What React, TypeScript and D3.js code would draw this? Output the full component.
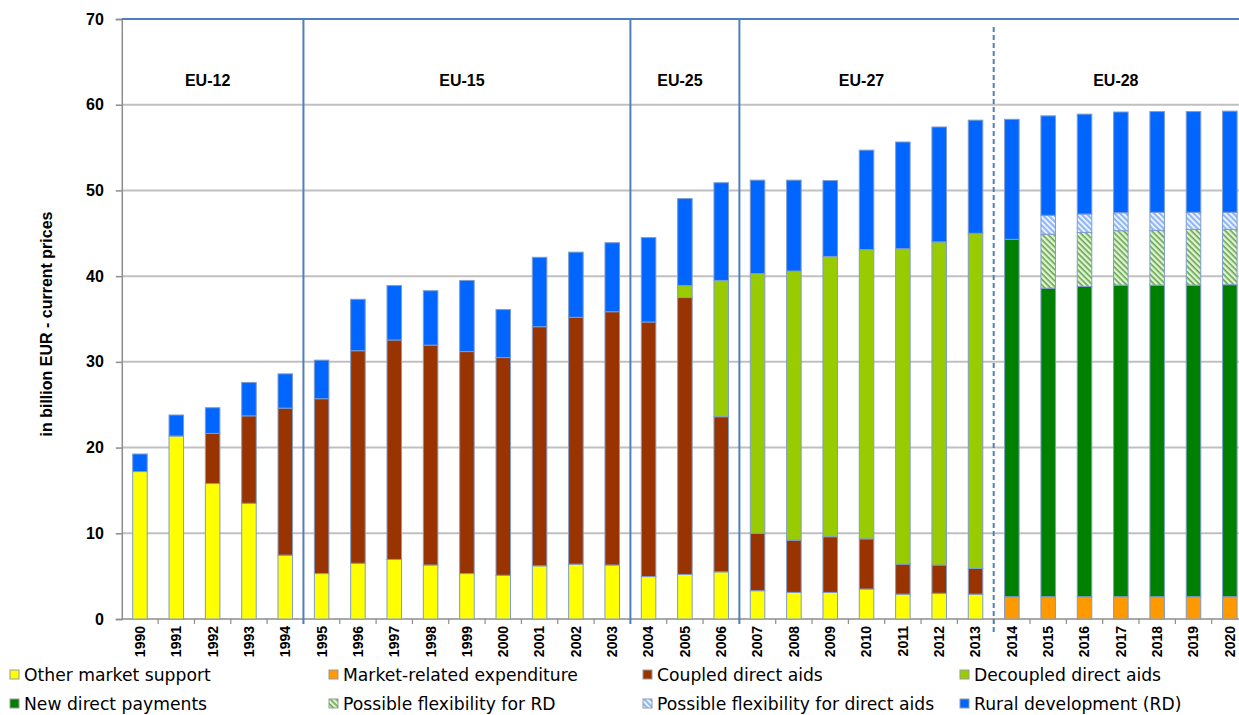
import { useEffect, useRef } from 'react'
import * as d3 from 'd3'

const years = [
  '1990', '1991', '1992', '1993', '1994', '1995', '1996', '1997', '1998', '1999', '2000',
  '2001', '2002', '2003', '2004', '2005', '2006', '2007', '2008', '2009', '2010',
  '2011', '2012', '2013', '2014', '2015', '2016', '2017', '2018', '2019', '2020',
]

// billion EUR, one value per year
const otherMarket = [17.2, 21.35, 15.8, 13.5, 7.45, 5.3, 6.5, 6.95, 6.3, 5.3, 5.1, 6.2, 6.4, 6.3, 4.95, 5.2, 5.5, 3.3, 3.1, 3.1, 3.5, 2.9, 3.0, 2.9, 0, 0, 0, 0, 0, 0, 0]
const marketRelated = [0, 0, 0, 0, 0, 0, 0, 0, 0, 0, 0, 0, 0, 0, 0, 0, 0, 0, 0, 0, 0, 0, 0, 0, 2.6, 2.6, 2.6, 2.6, 2.6, 2.6, 2.6]
const coupled = [0, 0, 5.85, 10.2, 17.15, 20.4, 24.8, 25.6, 25.65, 25.9, 25.4, 27.9, 28.8, 29.55, 29.7, 32.3, 18.1, 6.7, 6.1, 6.5, 5.85, 3.5, 3.3, 3.0, 0, 0, 0, 0, 0, 0, 0]
const decoupled = [0, 0, 0, 0, 0, 0, 0, 0, 0, 0, 0, 0, 0, 0, 0, 1.4, 15.9, 30.3, 31.4, 32.7, 33.75, 36.8, 37.7, 39.1, 0, 0, 0, 0, 0, 0, 0]
const newDirect = [0, 0, 0, 0, 0, 0, 0, 0, 0, 0, 0, 0, 0, 0, 0, 0, 0, 0, 0, 0, 0, 0, 0, 0, 41.7, 36.0, 36.2, 36.35, 36.35, 36.35, 36.4]
const flexRD = [0, 0, 0, 0, 0, 0, 0, 0, 0, 0, 0, 0, 0, 0, 0, 0, 0, 0, 0, 0, 0, 0, 0, 0, 0, 6.3, 6.3, 6.35, 6.4, 6.5, 6.45]
const flexDA = [0, 0, 0, 0, 0, 0, 0, 0, 0, 0, 0, 0, 0, 0, 0, 0, 0, 0, 0, 0, 0, 0, 0, 0, 0, 2.2, 2.15, 2.1, 2.1, 2.0, 2.0]
const rural = [2.05, 2.45, 3.0, 3.9, 4.0, 4.5, 6.0, 6.35, 6.35, 8.3, 5.6, 8.1, 7.6, 8.05, 9.85, 10.15, 11.4, 10.9, 10.6, 8.85, 11.6, 12.45, 13.4, 13.2, 14.0, 11.6, 11.65, 11.75, 11.75, 11.75, 11.8]

const seriesKeys = ['other', 'market', 'coupled', 'decoupled', 'newDirect', 'flexRD', 'flexDA', 'rural']
const seriesLabels = [
  'Other market support', 'Market-related expenditure', 'Coupled direct aids', 'Decoupled direct aids',
  'New direct payments', 'Possible flexibility for RD', 'Possible flexibility for direct aids', 'Rural development (RD)',
]
const seriesFills = ['#ffff00', '#ff9900', '#993300', '#99cc00', '#008000', 'url(#hatchRD)', 'url(#hatchDA)', '#0066ff']

const periodLabels = ['EU-12', 'EU-15', 'EU-25', 'EU-27', 'EU-28']
const periodStart = ['1990', '1995', '2004', '2007', '2014']
const yTicks = [0, 10, 20, 30, 40, 50, 60, 70]

export default function App() {
  const svgRef = useRef<SVGSVGElement>(null)

  useEffect(() => {
    if (!svgRef.current) return
    const width = 1239
    const height = 715
    const left = 121.8
    const right = 1248
    const top = 19
    const bottom = 619

    const svg = d3.select(svgRef.current).attr('width', width).attr('height', height)
    svg.selectAll('*').remove()

    const table = years.map((y, i) => ({
      year: y,
      other: otherMarket[i], market: marketRelated[i], coupled: coupled[i], decoupled: decoupled[i],
      newDirect: newDirect[i], flexRD: flexRD[i], flexDA: flexDA[i], rural: rural[i],
    }))

    const x = d3.scaleBand().domain(years).range([left, right]).paddingInner(0.6).paddingOuter(0.3)
    const y = d3.scaleLinear().domain([0, 70]).range([bottom, top])

    // hatch patterns (diagonal, top-left to bottom-right)
    const defs = svg.append('defs')
    const pRD = defs.append('pattern').attr('id', 'hatchRD').attr('patternUnits', 'userSpaceOnUse')
      .attr('width', 4).attr('height', 4).attr('patternTransform', 'rotate(45)')
    pRD.append('rect').attr('width', 4).attr('height', 4).attr('fill', '#e4f1da')
    pRD.append('rect').attr('width', 4).attr('height', 1.6).attr('fill', '#5fa844')
    const pDA = defs.append('pattern').attr('id', 'hatchDA').attr('patternUnits', 'userSpaceOnUse')
      .attr('width', 4).attr('height', 4).attr('patternTransform', 'rotate(45)')
    pDA.append('rect').attr('width', 4).attr('height', 4).attr('fill', '#8fb6f5')
    pDA.append('rect').attr('width', 4).attr('height', 1.6).attr('fill', '#ffffff')

    // gridlines
    svg.append('g')
      .selectAll('line')
      .data(yTicks.filter(t => t > 0 && t < 70))
      .join('line')
      .attr('x1', left).attr('x2', width)
      .attr('y1', d => y(d)).attr('y2', d => y(d))
      .attr('stroke', '#c0c0c0').attr('stroke-width', 2)

    // y axis
    const yAxis = svg.append('g').attr('transform', `translate(${left},0)`)
      .call(d3.axisLeft(y).tickValues(yTicks).tickSize(6).tickPadding(12).tickFormat(d3.format('d')))
    yAxis.select('.domain').attr('stroke', '#8c8c8c').attr('stroke-width', 1.5)
    yAxis.selectAll('.tick line').attr('stroke', '#8c8c8c').attr('stroke-width', 1.5)
    yAxis.selectAll('text')
      .attr('font-family', '"Liberation Sans", Arial, sans-serif')
      .attr('font-weight', 'bold').attr('font-size', '16px').attr('fill', '#000')

    // x axis
    const xAxis = svg.append('g').attr('transform', `translate(0,${bottom})`)
      .call(d3.axisBottom(x).tickSize(0).tickPadding(0))
    xAxis.select('.domain').attr('stroke', '#8c8c8c').attr('stroke-width', 1.5).attr('d', `M${left},0H${width}`)
    xAxis.selectAll('.tick text')
      .attr('transform', 'rotate(-90)')
      .attr('text-anchor', 'end')
      .attr('dy', '0.35em')
      .attr('x', -7)
      .attr('y', 0)
      .attr('font-family', '"Liberation Sans", Arial, sans-serif')
      .attr('font-weight', 'bold').attr('font-size', '14px').attr('fill', '#000')
    svg.append('g')
      .selectAll('line')
      .data(years.slice(1))
      .join('line')
      .attr('x1', d => (x(d) ?? 0) - x.step() * 0.3).attr('x2', d => (x(d) ?? 0) - x.step() * 0.3)
      .attr('y1', bottom).attr('y2', bottom + 5)
      .attr('stroke', '#8c8c8c').attr('stroke-width', 1.2)

    // y axis title
    svg.append('text')
      .attr('transform', `translate(52,${(top + bottom) / 2 + 5}) rotate(-90)`)
      .attr('text-anchor', 'middle')
      .attr('font-family', '"Liberation Sans", Arial, sans-serif')
      .attr('font-weight', 'bold').attr('font-size', '16px')
      .text('in billion EUR - current prices')

    // stacked bars
    const stacked = d3.stack<any>().keys(seriesKeys)(table)
    svg.append('g')
      .selectAll('g')
      .data(stacked)
      .join('g')
      .attr('fill', (_, i) => seriesFills[i])
      .selectAll('rect')
      .data(d => d.filter(s => s[1] - s[0] > 0))
      .join('rect')
      .attr('x', d => x(d.data.year) ?? 0)
      .attr('width', x.bandwidth())
      .attr('y', d => y(d[1]))
      .attr('height', d => y(d[0]) - y(d[1]))
      .attr('stroke', '#7f9ccb')
      .attr('stroke-width', 1)

    // frame top
    svg.append('line')
      .attr('x1', left).attr('x2', width).attr('y1', top).attr('y2', top)
      .attr('stroke', '#4f7fbf').attr('stroke-width', 2)

    // period separators
    periodStart.slice(1).forEach((p, i) => {
      const sx = (x(p) ?? 0) - x.step() * 0.3
      const dashed = i === periodStart.length - 2
      svg.append('line')
        .attr('x1', sx).attr('x2', sx)
        .attr('y1', dashed ? top + 8 : top).attr('y2', dashed ? bottom + 13 : bottom + 5)
        .attr('stroke', '#4f7fbf').attr('stroke-width', 2)
        .attr('stroke-dasharray', dashed ? '5 3' : null)
    })

    // period labels
    periodLabels.forEach((lab, i) => {
      const x0 = (x(periodStart[i]) ?? 0) - x.step() * 0.3
      const x1 = i < periodStart.length - 1 ? (x(periodStart[i + 1]) ?? 0) - x.step() * 0.3 : right
      svg.append('text')
        .attr('x', (x0 + x1) / 2 - 5)
        .attr('y', y(62.8))
        .attr('dy', '0.35em')
        .attr('text-anchor', 'middle')
        .attr('font-family', '"Liberation Sans", Arial, sans-serif')
        .attr('font-weight', 'bold').attr('font-size', '16px')
        .text(lab)
    })

    // legend
    const colX = [24, 343, 657, 974]
    const rowY = [675, 704]
    const legend = svg.append('g')
    seriesLabels.forEach((lab, i) => {
      const lx = colX[i % 4]
      const ly = rowY[Math.floor(i / 4)]
      legend.append('rect')
        .attr('x', lx - 14).attr('y', ly - 5).attr('width', 9).attr('height', 9)
        .attr('fill', seriesFills[i]).attr('stroke', '#9a9a9a').attr('stroke-width', 1)
      legend.append('text')
        .attr('x', lx).attr('y', ly).attr('dy', '0.35em')
        .attr('font-family', '"DejaVu Sans", Verdana, sans-serif')
        .attr('font-size', '17.2px').attr('fill', '#000')
        .text(lab)
    })
  }, [])

  return (
    <svg ref={svgRef} style={{ position: 'absolute', left: 0, top: 0, background: '#fff' }} />
  )
}
